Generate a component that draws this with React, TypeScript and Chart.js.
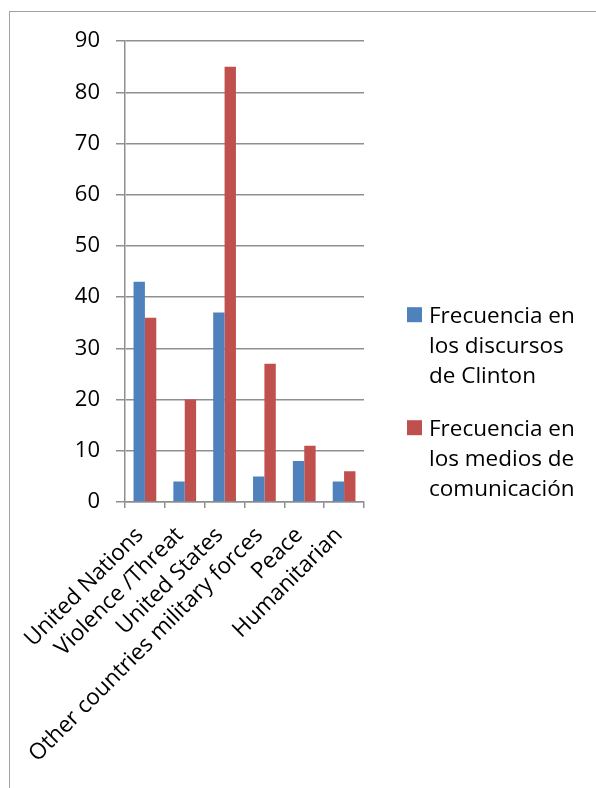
import React, { useEffect, useRef } from 'react';
import { Chart, registerables } from 'chart.js';

Chart.register(...registerables);

const categories = [
  'United Nations',
  'Violence /Threat',
  'United States',
  'Other countries military forces',
  'Peace',
  'Humanitarian',
];
const clintonValues = [43, 4, 37, 5, 8, 4];
const mediaValues = [36, 20, 85, 27, 11, 6];
const clintonLegend = ['Frecuencia en', 'los discursos', 'de Clinton'];
const mediaLegend = ['Frecuencia en', 'los medios de', 'comunicación'];
const yMin = 0;
const yMax = 90;
const yStep = 10;

const FONT = "'Open Sans', sans-serif";
const GRID = '#8f8f8f';
const BLUE = '#4F81BD';
const RED = '#C0504D';

const legendPlugin = {
  id: 'wrappedLegend',
  afterDraw(chart: any) {
    const ctx = chart.ctx as CanvasRenderingContext2D;
    const area = chart.chartArea;
    const items = [
      { color: BLUE, lines: clintonLegend },
      { color: RED, lines: mediaLegend },
    ];
    const boxX = area.right + 43;
    const textX = boxX + 22;
    const lineH = 30;
    let top = area.top + 266;
    ctx.save();
    ctx.font = `22.5px ${FONT}`;
    ctx.textBaseline = 'middle';
    ctx.textAlign = 'left';
    items.forEach((it) => {
      ctx.fillStyle = it.color;
      ctx.fillRect(boxX, top, 15, 15);
      ctx.fillStyle = '#000';
      it.lines.forEach((ln, i) => {
        ctx.fillText(ln, textX, top + 9 + i * lineH);
      });
      top += it.lines.length * lineH + 23;
    });
    ctx.restore();
  },
};

export default function App() {
  const ref = useRef<HTMLCanvasElement>(null);

  useEffect(() => {
    document.documentElement.style.overflow = 'hidden';
    document.body.style.overflow = 'hidden';
    const canvas = ref.current!;
    const chart = new Chart(canvas, {
      type: 'bar',
      data: {
        labels: categories,
        datasets: [
          {
            label: clintonLegend.join(' '),
            data: clintonValues,
            backgroundColor: BLUE,
            borderWidth: 0,
            categoryPercentage: 0.571,
            barPercentage: 1,
          },
          {
            label: mediaLegend.join(' '),
            data: mediaValues,
            backgroundColor: RED,
            borderWidth: 0,
            categoryPercentage: 0.571,
            barPercentage: 1,
          },
        ],
      },
      options: {
        responsive: false,
        animation: false,
        layout: { padding: { left: 0, top: 29, right: 233, bottom: 0 } },
        plugins: {
          legend: { display: false },
          tooltip: { enabled: false },
        },
        scales: {
          x: {
            grid: {
              display: true,
              drawOnChartArea: false,
              drawTicks: true,
              tickLength: 6,
              color: GRID,
              lineWidth: 1.5,
            },
            border: { display: true, color: GRID, width: 1.5 },
            ticks: {
              autoSkip: false,
              maxRotation: 45,
              minRotation: 45,
              padding: 14,
              labelOffset: -5,
              color: '#000',
              font: { family: FONT, size: 22.5 },
            },
            afterFit: (axis: any) => {
              axis.height = 287;
            },
          },
          y: {
            min: yMin,
            max: yMax,
            grid: {
              color: GRID,
              lineWidth: 1.5,
              tickLength: 9,
            },
            border: { display: true, color: GRID, width: 1.5 },
            ticks: {
              stepSize: yStep,
              padding: 16,
              color: '#000',
              font: { family: FONT, size: 22 },
            },
            afterFit: (axis: any) => {
              axis.width = 115;
            },
          },
        },
      },
      plugins: [legendPlugin],
    });
    return () => chart.destroy();
  }, []);

  return (
    <div
      style={{
        position: 'absolute',
        left: 9,
        top: 11,
        width: 600,
        height: 800,
        border: '1px solid #a0a0a0',
        background: '#fff',
      }}
    >
      <canvas ref={ref} width={587} height={777} style={{ display: 'block' }} />
    </div>
  );
}
